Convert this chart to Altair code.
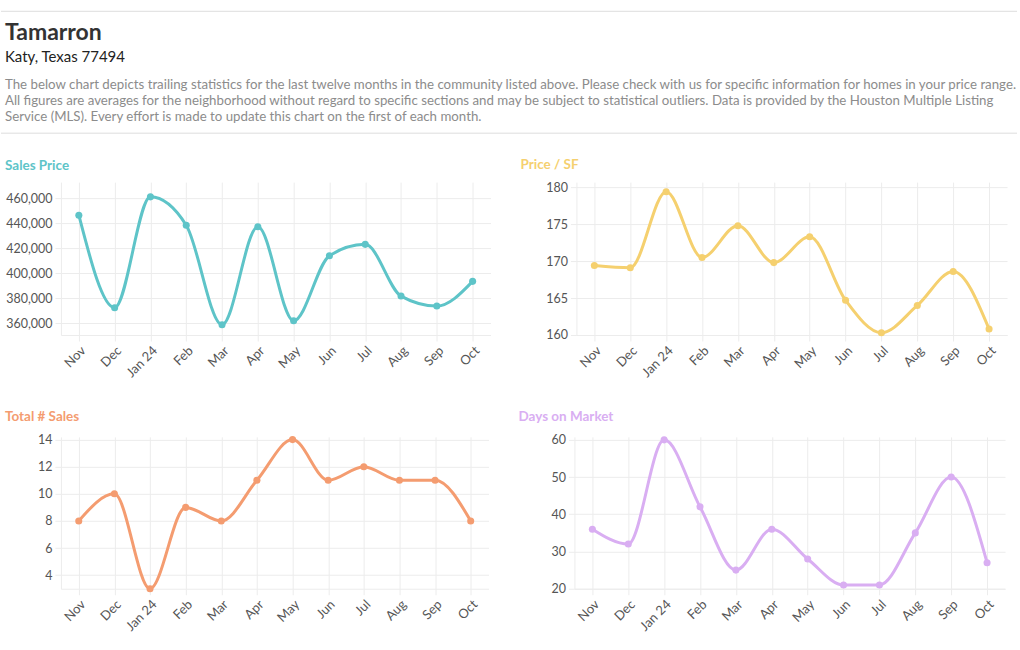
import altair as alt
import pandas as pd

FONT = "Lato"

months = ["Nov", "Dec", "Jan 24", "Feb", "Mar", "Apr", "May", "Jun", "Jul", "Aug", "Sep", "Oct"]
sales_price = [446500, 372300, 461200, 438400, 358600, 437200, 361800, 414000, 423100, 381600, 373600, 393400]
price_sf = [169.4, 169.1, 179.4, 170.5, 174.8, 169.8, 173.3, 164.7, 160.3, 164.0, 168.6, 160.8]
total_sales = [8, 10, 3, 9, 8, 11, 14, 11, 12, 11, 11, 8]
days_market = [36, 32, 60, 42, 25, 36, 28, 21, 21, 35, 50, 27]

title_text = "Tamarron"
subtitle_text = "Katy, Texas 77494"
paragraph_lines = [
    "The below chart depicts trailing statistics for the last twelve months in the community listed above. Please check with us for specific information for homes in your price range.",
    "All figures are averages for the neighborhood without regard to specific sections and may be subject to statistical outliers. Data is provided by the Houston Multiple Listing",
    "Service (MLS). Every effort is made to update this chart on the first of each month.",
]

GRID = "#ececec"
EXT = 60


def panel(values, name, color, domain, ticks, fmt, width, height):
    df = pd.DataFrame({"month": months, "value": values})
    base = alt.Chart(df).encode(
        x=alt.X(
            "month:N",
            sort=months,
            scale=alt.Scale(type="point", padding=0.5),
            axis=alt.Axis(
                title=None, labelAngle=-45, grid=True, gridColor=GRID,
                domainColor=GRID, tickColor=GRID, tickSize=6,
                labelFont=FONT, labelFontSize=13, labelColor="#555555", labelPadding=3,
            ),
        ),
        y=alt.Y(
            "value:Q",
            scale=alt.Scale(domain=domain, nice=False, zero=False),
            axis=alt.Axis(
                title=None, values=ticks, format=fmt, grid=True, gridColor=GRID,
                domainColor=GRID, tickColor=GRID, tickSize=6,
                labelFont=FONT, labelFontSize=12.5, labelColor="#555555", labelPadding=3,
                minExtent=EXT, maxExtent=EXT,
            ),
        ),
    )
    line = base.mark_line(interpolate="monotone", color=color, strokeWidth=3, clip=True)
    pts = base.mark_circle(size=50, color=color, opacity=1)
    return (line + pts).properties(
        width=width, height=height,
        title=alt.TitleParams(
            name, anchor="start", frame="bounds", color=color, font=FONT,
            fontSize=13.5, fontWeight="bold", dx=4, offset=10,
        ),
    )


hdr_df = pd.DataFrame({"k": [0]})
hdr = alt.Chart(hdr_df)
rule1 = hdr.mark_rule(color="#dddddd", strokeWidth=1).encode(
    x=alt.value(-EXT), x2=alt.value(957), y=alt.value(11))
rule2 = hdr.mark_rule(color="#dddddd", strokeWidth=1).encode(
    x=alt.value(-EXT), x2=alt.value(957), y=alt.value(133))
t1 = hdr.mark_text(align="left", baseline="alphabetic", font=FONT, fontSize=23,
                   fontWeight="bold", color="#333333").encode(
    x=alt.value(4 - EXT), y=alt.value(40), text=alt.value(title_text))
t2 = hdr.mark_text(align="left", baseline="alphabetic", font=FONT, fontSize=15,
                   color="#222222").encode(
    x=alt.value(4 - EXT), y=alt.value(62), text=alt.value(subtitle_text))
t3 = hdr.mark_text(align="left", baseline="alphabetic", font=FONT, fontSize=13.3,
                   color="#8c8c8c", lineHeight=16).encode(
    x=alt.value(4 - EXT), y=alt.value(89), text=alt.value(paragraph_lines))
header = (rule1 + rule2 + t1 + t2 + t3).properties(width=940, height=134)

p1 = panel(sales_price, "Sales Price", "#5ec4c8", [350400, 473000],
           [360000, 380000, 400000, 420000, 440000, 460000], ",.0f", 430, 153)
p2 = panel(price_sf, "Price / SF", "#f5d06f", [160, 180.7],
           [160, 165, 170, 175, 180], "d", 431, 153)
p3 = panel(total_sales, "Total # Sales", "#f49c70", [3, 14.2],
           [4, 6, 8, 10, 12, 14], "d", 428, 152)
p4 = panel(days_market, "Days on Market", "#d9aef2", [20, 60.8],
           [20, 30, 40, 50, 60], "d", 431, 152)

row1 = alt.hconcat(p1, p2, spacing=26)
row2 = alt.hconcat(p3, p4, spacing=26)
body = alt.vconcat(row1, row2, spacing=30)

chart = alt.vconcat(header, body, spacing=23).properties(
    padding=0
).configure_view(strokeWidth=0)

chart.save("out.html", embed_options={"renderer": "svg", "actions": False})
